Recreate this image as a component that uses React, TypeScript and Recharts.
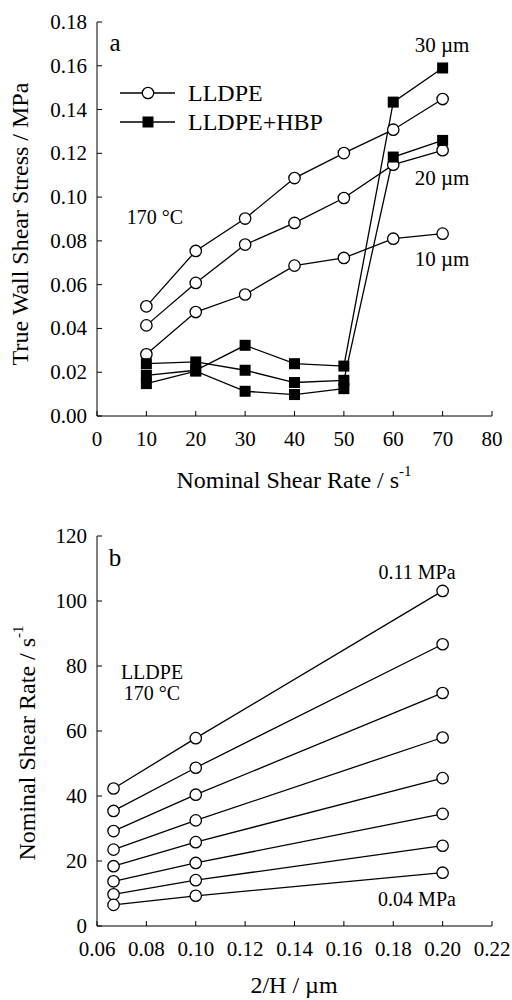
import { LineChart, Line, XAxis, YAxis, Legend } from 'recharts'

// panel a: true wall shear stress vs nominal shear rate
const rateX = [10, 20, 30, 40, 50, 60, 70]
const lldpe30 = [0.0501, 0.0754, 0.0902, 0.1087, 0.1201, 0.1308, 0.1448]
const lldpe20 = [0.0414, 0.0608, 0.0783, 0.0882, 0.0996, 0.1148, 0.1214]
const lldpe10 = [0.0282, 0.0475, 0.0555, 0.0687, 0.0722, 0.081, 0.0833]
const hbp30 = [0.0186, 0.0209, 0.0323, 0.0239, 0.0228, 0.1434, 0.159]
const hbp20 = [0.0239, 0.0247, 0.0209, 0.0153, 0.0163, 0.1183, 0.1259]
const hbp10 = [0.0148, 0.0205, 0.0113, 0.0098, 0.0125]
const aXTicks = [0, 10, 20, 30, 40, 50, 60, 70, 80]
const aYTicks = [0, 0.02, 0.04, 0.06, 0.08, 0.1, 0.12, 0.14, 0.16, 0.18]

// panel b: nominal shear rate vs 2/H, one line per stress level
const invH = [0.0667, 0.1, 0.2]
const rate011 = [42.3, 57.8, 103.1]
const rate010 = [35.4, 48.7, 86.7]
const rate009 = [29.2, 40.4, 71.7]
const rate008 = [23.5, 32.5, 58.0]
const rate007 = [18.4, 25.8, 45.5]
const rate006 = [13.75, 19.4, 34.5]
const rate005 = [9.75, 14.1, 24.7]
const rate004 = [6.5, 9.3, 16.4]
const bXTicks = [0.06, 0.08, 0.1, 0.12, 0.14, 0.16, 0.18, 0.2, 0.22]
const bYTicks = [0, 20, 40, 60, 80, 100, 120]

const FONT = '"Liberation Serif", "DejaVu Serif", serif'
const TICK_FS = 21
const TITLE_FS = 24
const STROKE = 1.3

const toPoints = (xs: number[], ys: number[]) => ys.map((y, i) => ({ x: xs[i], y }))

const aLldpe = [lldpe30, lldpe20, lldpe10].map((s) => toPoints(rateX, s))
const aHbp = [hbp30, hbp20, hbp10].map((s) => toPoints(rateX, s))
const bLines = [rate011, rate010, rate009, rate008, rate007, rate006, rate005, rate004].map((s) =>
  toPoints(invH, s)
)

const makeBottomTick = (fmt: (v: number) => string) => (props: any) => {
  const { x, y, payload } = props
  return (
    <g>
      <line x1={x} y1={y} x2={x} y2={y - 5} stroke="#000" />
      <text x={x} y={y + 23} textAnchor="middle" dominantBaseline="central" fontSize={TICK_FS} fontFamily={FONT} fill="#000">
        {fmt(payload.value)}
      </text>
    </g>
  )
}

const makeLeftTick = (fmt: (v: number) => string) => (props: any) => {
  const { x, y, payload } = props
  return (
    <g>
      <line x1={x} y1={y} x2={x + 5} y2={y} stroke="#000" />
      <text x={x - 10} y={y} textAnchor="end" dominantBaseline="central" fontSize={TICK_FS} fontFamily={FONT} fill="#000">
        {fmt(payload.value)}
      </text>
    </g>
  )
}

const TopTick = (props: any) => (
  <line x1={props.x} y1={props.y} x2={props.x} y2={props.y + 5} stroke="#000" />
)
const RightTick = (props: any) => (
  <line x1={props.x} y1={props.y} x2={props.x - 5} y2={props.y} stroke="#000" />
)

const circleDot = (props: any) => (
  <circle key={`c-${props.index}`} cx={props.cx} cy={props.cy} r={5.7} fill="#fff" stroke="#000" strokeWidth={STROKE} />
)
const squareDot = (props: any) => (
  <rect key={`s-${props.index}`} x={props.cx - 5.5} y={props.cy - 5.5} width={11} height={11} fill="#000" />
)

function LegendBox() {
  const rows = [
    { name: 'LLDPE', square: false },
    { name: 'LLDPE+HBP', square: true },
  ]
  return (
    <svg width={280} height={60}>
      {rows.map((r, i) => {
        const y = 15 + i * 29
        return (
          <g key={r.name}>
            <line x1={5} y1={y} x2={60} y2={y} stroke="#000" strokeWidth={STROKE} />
            {r.square ? (
              <rect x={27.5} y={y - 5.5} width={11} height={11} fill="#000" />
            ) : (
              <circle cx={33} cy={y} r={5.7} fill="#fff" stroke="#000" strokeWidth={STROKE} />
            )}
            <text x={73} y={y} dominantBaseline="central" fontSize={24} fontFamily={FONT} fill="#000">
              {r.name}
            </text>
          </g>
        )
      })}
    </svg>
  )
}

const txt = { fontFamily: FONT, fill: '#000' }

function PanelA() {
  return (
    <LineChart width={512} height={500} margin={{ top: 22, right: 20, bottom: 24, left: 0 }}>
      <XAxis dataKey="x" type="number" domain={[0, 80]} ticks={aXTicks} allowDataOverflow height={60}
        tickSize={0} tickMargin={0} tickLine={false} axisLine={{ stroke: '#000' }}
        tick={makeBottomTick((v) => String(v))} interval={0} />
      <XAxis xAxisId="top" orientation="top" type="number" domain={[0, 80]} ticks={aXTicks} allowDataOverflow height={0}
        tickSize={0} tickMargin={0} tickLine={false} axisLine={{ stroke: '#000' }} tick={TopTick} interval={0} />
      <YAxis dataKey="y" type="number" domain={[0, 0.18]} ticks={aYTicks} allowDataOverflow width={97}
        tickSize={0} tickMargin={0} tickLine={false} axisLine={{ stroke: '#000' }}
        tick={makeLeftTick((v) => v.toFixed(2))} interval={0} />
      <YAxis yAxisId="right" orientation="right" type="number" domain={[0, 0.18]} ticks={aYTicks} allowDataOverflow width={0}
        tickSize={0} tickMargin={0} tickLine={false} axisLine={{ stroke: '#000' }} tick={RightTick} interval={0} />
      {aLldpe.map((d, i) => (
        <Line key={`l${i}`} data={d} dataKey="y" stroke="#000" strokeWidth={STROKE} dot={circleDot} activeDot={false} isAnimationActive={false} />
      ))}
      {aHbp.map((d, i) => (
        <Line key={`h${i}`} data={d} dataKey="y" stroke="#000" strokeWidth={STROKE} dot={squareDot} activeDot={false} isAnimationActive={false} />
      ))}
      <Legend content={() => <LegendBox />} layout="horizontal" verticalAlign="middle" align="center"
        wrapperStyle={{ position: 'absolute', left: 115, top: 78, width: 280, height: 60 }} />
      <text x={115} y={42} textAnchor="middle" dominantBaseline="central" fontSize={25} {...txt}>a</text>
      <text x={442} y={45} textAnchor="middle" dominantBaseline="central" fontSize={21} {...txt}>30 µm</text>
      <text x={442} y={178} textAnchor="middle" dominantBaseline="central" fontSize={21} {...txt}>20 µm</text>
      <text x={442} y={259} textAnchor="middle" dominantBaseline="central" fontSize={21} {...txt}>10 µm</text>
      <text x={155} y={217} textAnchor="middle" dominantBaseline="central" fontSize={20} {...txt}>170 °C</text>
      <text x={294} y={480} textAnchor="middle" dominantBaseline="central" fontSize={TITLE_FS} {...txt}>
        Nominal Shear Rate / s<tspan dy={-9} fontSize={15}>-1</tspan>
      </text>
      <text x={20} y={224} transform="rotate(-90, 20, 224)" textAnchor="middle" dominantBaseline="central" fontSize={TITLE_FS} {...txt}>
        True Wall Shear Stress / MPa
      </text>
    </LineChart>
  )
}

function PanelB() {
  return (
    <LineChart width={512} height={500} margin={{ top: 36, right: 20, bottom: 14, left: 0 }}>
      <XAxis dataKey="x" type="number" domain={[0.06, 0.22]} ticks={bXTicks} allowDataOverflow height={60}
        tickSize={0} tickMargin={0} tickLine={false} axisLine={{ stroke: '#000' }}
        tick={makeBottomTick((v) => v.toFixed(2))} interval={0} />
      <XAxis xAxisId="top" orientation="top" type="number" domain={[0.06, 0.22]} ticks={bXTicks} allowDataOverflow height={0}
        tickSize={0} tickMargin={0} tickLine={false} axisLine={{ stroke: '#000' }} tick={TopTick} interval={0} />
      <YAxis dataKey="y" type="number" domain={[0, 120]} ticks={bYTicks} allowDataOverflow width={97}
        tickSize={0} tickMargin={0} tickLine={false} axisLine={{ stroke: '#000' }}
        tick={makeLeftTick((v) => String(v))} interval={0} />
      <YAxis yAxisId="right" orientation="right" type="number" domain={[0, 120]} ticks={bYTicks} allowDataOverflow width={0}
        tickSize={0} tickMargin={0} tickLine={false} axisLine={{ stroke: '#000' }} tick={RightTick} interval={0} />
      {bLines.map((d, i) => (
        <Line key={`b${i}`} data={d} dataKey="y" stroke="#000" strokeWidth={STROKE} dot={circleDot} activeDot={false} isAnimationActive={false} />
      ))}
      <text x={115} y={57} textAnchor="middle" dominantBaseline="central" fontSize={25} {...txt}>b</text>
      <text x={417} y={72} textAnchor="middle" dominantBaseline="central" fontSize={20} {...txt}>0.11 MPa</text>
      <text x={417} y={399} textAnchor="middle" dominantBaseline="central" fontSize={20} {...txt}>0.04 MPa</text>
      <text x={152} y={172} textAnchor="middle" dominantBaseline="central" fontSize={20} {...txt}>LLDPE</text>
      <text x={152} y={193} textAnchor="middle" dominantBaseline="central" fontSize={20} {...txt}>170 °C</text>
      <text x={294} y={485} textAnchor="middle" dominantBaseline="central" fontSize={TITLE_FS} {...txt}>2/H / µm</text>
      <text x={27} y={243} transform="rotate(-90, 27, 243)" textAnchor="middle" dominantBaseline="central" fontSize={TITLE_FS} {...txt}>
        Nominal Shear Rate / s<tspan dy={-9} fontSize={15}>-1</tspan>
      </text>
    </LineChart>
  )
}

export default function App() {
  return (
    <div style={{ position: 'absolute', left: 0, top: 0, width: 512, height: 1000, background: '#fff' }}>
      <div style={{ position: 'relative', width: 512, height: 500 }}>
        <PanelA />
      </div>
      <div style={{ position: 'relative', width: 512, height: 500 }}>
        <PanelB />
      </div>
    </div>
  )
}
